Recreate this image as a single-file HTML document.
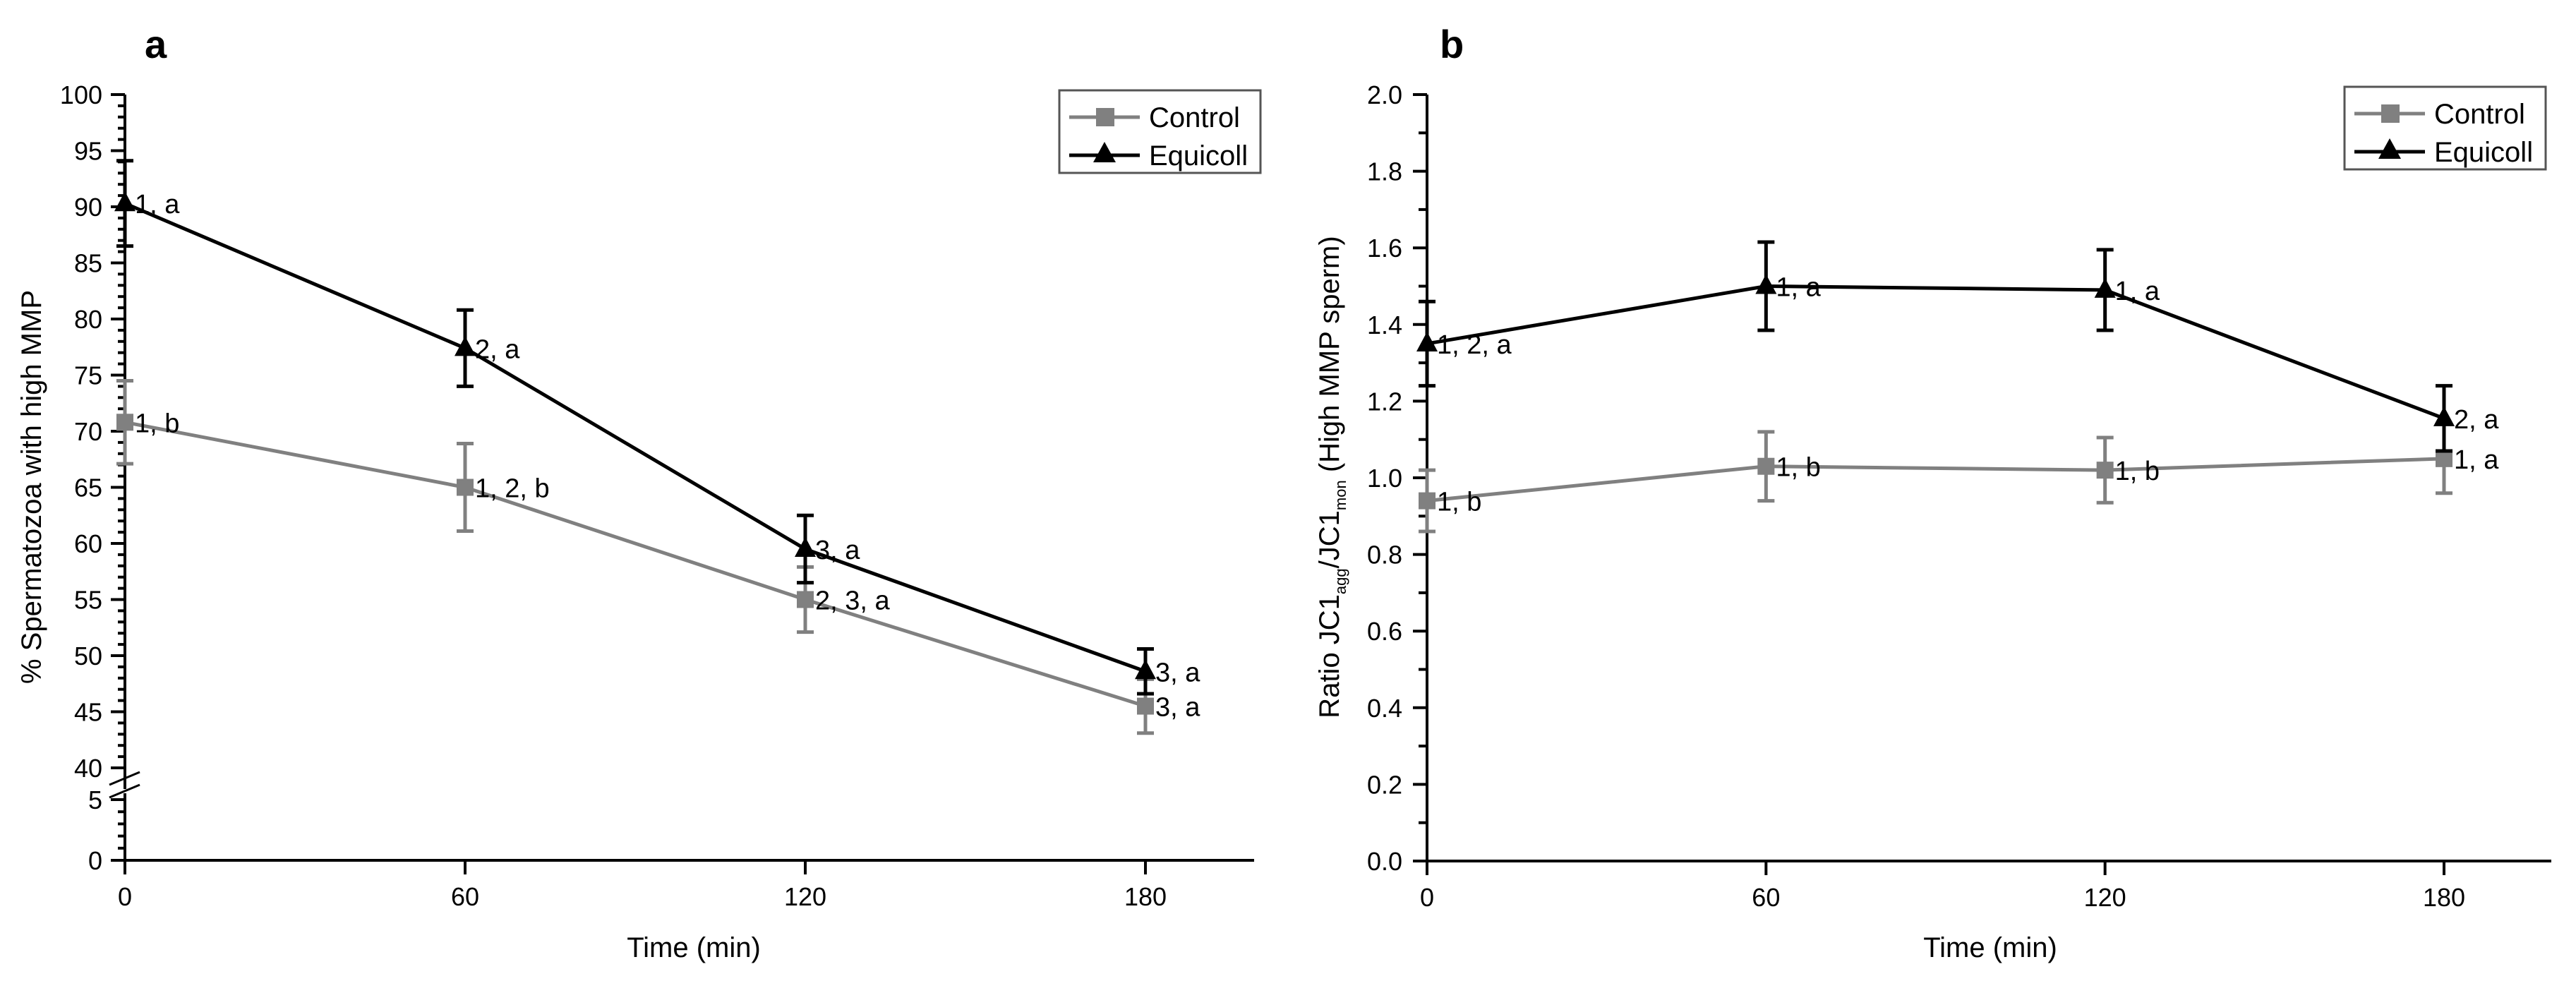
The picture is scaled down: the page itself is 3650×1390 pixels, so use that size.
<!DOCTYPE html>
<html><head><meta charset="utf-8"><style>
html,body{margin:0;padding:0;background:#fff;}
svg{display:block;font-family:"Liberation Sans",sans-serif;}
</style></head>
<body>
<svg id="chart" width="3650" height="1390" viewBox="0 0 3650 1390" xmlns="http://www.w3.org/2000/svg">
<rect width="3650" height="1390" fill="#fff"/>
</svg>
<script>
const times = [0, 60, 120, 180];
const aControl = [70.8, 65.0, 55.0, 45.5];
const aControlErr = [3.7, 3.9, 2.9, 2.4];
const aEquicoll = [90.3, 77.4, 59.5, 48.6];
const aEquicollErr = [3.8, 3.4, 3.0, 2.0];
const aControlLabels = ["1, b", "1, 2, b", "2, 3, a", "3, a"];
const aEquicollLabels = ["1, a", "2, a", "3, a", "3, a"];
const bControl = [0.94, 1.03, 1.02, 1.05];
const bControlErr = [0.08, 0.09, 0.085, 0.09];
const bEquicoll = [1.35, 1.50, 1.49, 1.155];
const bEquicollErr = [0.11, 0.115, 0.105, 0.085];
const bControlLabels = ["1, b", "1, b", "1, b", "1, a"];
const bEquicollLabels = ["1, 2, a", "1, a", "1, a", "2, a"];
const xTicks = [0, 60, 120, 180];
const aYTicks = [40, 45, 50, 55, 60, 65, 70, 75, 80, 85, 90, 95, 100];
const aYLowTicks = [0, 5];
const bYTicks = [0, 0.2, 0.4, 0.6, 0.8, 1.0, 1.2, 1.4, 1.6, 1.8, 2.0];

const NS = "http://www.w3.org/2000/svg";
const svg = document.getElementById("chart");
function el(tag, attrs, parent, text) {
  const e = document.createElementNS(NS, tag);
  for (const k in attrs) e.setAttribute(k, attrs[k]);
  if (text !== undefined) e.textContent = text;
  (parent || svg).appendChild(e);
  return e;
}

// Panel A scales
const ax = t => 177 + t * (1623 - 177) / 180;
const ay = v => v >= 40 ? 134 + (100 - v) * 15.9 : 1219 - v * 17.2;
// Panel B scales
const bx = t => 2022 + t * (3463 - 2022) / 180;
const by = v => 1220 - v * (1220 - 134) / 2.0;

function axes(g, X, x0, xEnd, y0, yTop) {
  const ax1 = el("line", {x1: x0, y1: y0, x2: xEnd, y2: y0, stroke: "#000", "stroke-width": 4}, g);
  
  
  xTicks.forEach(t => {
    el("line", {x1: X(t), y1: y0, x2: X(t), y2: y0 + 20, stroke: "#000", "stroke-width": 4}, g);
    const lb = el("text", {x: X(t), y: y0 + 64, "font-size": 36, "text-anchor": "middle"}, g, String(t));
    
    
  });
}

function series(g, X, Y, vals, errs, labels, color, marker, name) {
  const pts = vals.map((v, i) => X(times[i]) + "," + Y(v)).join(" ");
  const pl = el("polyline", {points: pts, fill: "none", stroke: color, "stroke-width": 5}, g);
  
  
  vals.forEach((v, i) => {
    const x = X(times[i]);
    const yt = Y(v + errs[i]), yb = Y(v - errs[i]);
    const eb = el("path", {d: `M${x},${yt}V${yb}M${x-12},${yt}H${x+12}M${x-12},${yb}H${x+12}`, stroke: color, "stroke-width": 5, fill: "none"}, g);
    
    
    let m;
    if (marker === "square") {
      m = el("rect", {x: x - 12, y: Y(v) - 12, width: 24, height: 24, fill: color}, g);
    } else {
      const y = Y(v);
      m = el("polygon", {points: `${x},${y-17} ${x-15},${y+11} ${x+15},${y+11}`, fill: color}, g);
    }
    
    
    const t = el("text", {x: x + 14, y: Y(v) + 14, "font-size": 38}, g, labels[i]);
    
    
  });
}

function legend(g, x, y) {
  const box = el("rect", {x: x, y: y, width: 285, height: 117, fill: "#fff", stroke: "#555", "stroke-width": 3}, g);
  
  
  const g1 = el("g", {}, g);
  
  
  el("line", {x1: x + 14, y1: y + 38, x2: x + 114, y2: y + 38, stroke: "#808080", "stroke-width": 5}, g1);
  el("rect", {x: x + 52, y: y + 25, width: 26, height: 26, fill: "#808080"}, g1);
  el("text", {x: x + 127, y: y + 52, "font-size": 40}, g1, "Control");
  const g2 = el("g", {}, g);
  
  
  el("line", {x1: x + 14, y1: y + 92, x2: x + 114, y2: y + 92, stroke: "#000", "stroke-width": 5}, g2);
  el("polygon", {points: `${x+64},${y+73} ${x+48},${y+102} ${x+80},${y+102}`, fill: "#000"}, g2);
  el("text", {x: x + 127, y: y + 106, "font-size": 40}, g2, "Equicoll");
}

// ---------- Panel A ----------
const gA = el("g", {});


const la = el("text", {x: 205, y: 82, "font-size": 56, "font-weight": "bold"}, gA, "a");


// y axis (upper segment and lower segment)
const yaA = el("path", {d: `M177,${ay(100)}V${ay(40)+30}M177,1124V1219`, stroke: "#000", "stroke-width": 4, fill: "none"}, gA);


const brk = el("path", {d: "M155,1112L198,1094M155,1130L198,1112", stroke: "#000", "stroke-width": 3}, gA);


for (let v = 40; v <= 100; v++) {
  el("line", {x1: 177, y1: ay(v), x2: v % 5 === 0 ? 157 : 167, y2: ay(v), stroke: "#000", "stroke-width": 4}, gA);
}
for (let v = 1; v <= 5; v++) {
  el("line", {x1: 177, y1: ay(v), x2: v % 5 === 0 ? 157 : 167, y2: ay(v), stroke: "#000", "stroke-width": 4}, gA);
}
aYTicks.concat(aYLowTicks).forEach(v => {
  const t = el("text", {x: 145, y: ay(v) + 13, "font-size": 36, "text-anchor": "end"}, gA, String(v));
  
  
});
axes(gA, ax, 157, 1777, 1219);
const xtA = el("text", {x: 983, y: 1356, "font-size": 40, "text-anchor": "middle"}, gA, "Time (min)");


const ytA = el("text", {x: 0, y: 0, "font-size": 40, "text-anchor": "middle", transform: "translate(58,690) rotate(-90)"}, gA, "% Spermatozoa with high MMP");


series(gA, ax, ay, aControl, aControlErr, aControlLabels, "#808080", "square", "control");
series(gA, ax, ay, aEquicoll, aEquicollErr, aEquicollLabels, "#000", "triangle", "equicoll");
legend(gA, 1501, 128);

// ---------- Panel B ----------
const gB = el("g", {});


const lb2 = el("text", {x: 2040, y: 82, "font-size": 56, "font-weight": "bold"}, gB, "b");


const yaB = el("line", {x1: 2022, y1: by(2.0), x2: 2022, y2: 1220, stroke: "#000", "stroke-width": 4}, gB);


for (let i = 0; i <= 20; i++) {
  const v = i / 10;
  el("line", {x1: 2022, y1: by(v), x2: i % 2 === 0 ? 2002 : 2010, y2: by(v), stroke: "#000", "stroke-width": 4}, gB);
}
bYTicks.forEach(v => {
  const t = el("text", {x: 1987, y: by(v) + 13, "font-size": 36, "text-anchor": "end"}, gB, v.toFixed(1));
  
  
});
axes(gB, bx, 2002, 3615, 1220);
const xtB = el("text", {x: 2820, y: 1356, "font-size": 40, "text-anchor": "middle"}, gB, "Time (min)");


const ytB = el("text", {x: 0, y: 0, "font-size": 40, "text-anchor": "middle", transform: "translate(1897,676) rotate(-90)"}, gB);


el("tspan", {}, ytB, "Ratio JC1");
el("tspan", {"font-size": 22, dy: 10}, ytB, "agg");
el("tspan", {dy: -10}, ytB, "/JC1");
el("tspan", {"font-size": 22, dy: 10}, ytB, "mon");
el("tspan", {dy: -10}, ytB, " (High MMP sperm)");
series(gB, bx, by, bControl, bControlErr, bControlLabels, "#808080", "square", "control");
series(gB, bx, by, bEquicoll, bEquicollErr, bEquicollLabels, "#000", "triangle", "equicoll");
legend(gB, 3322, 123);
</script>
</body></html>
